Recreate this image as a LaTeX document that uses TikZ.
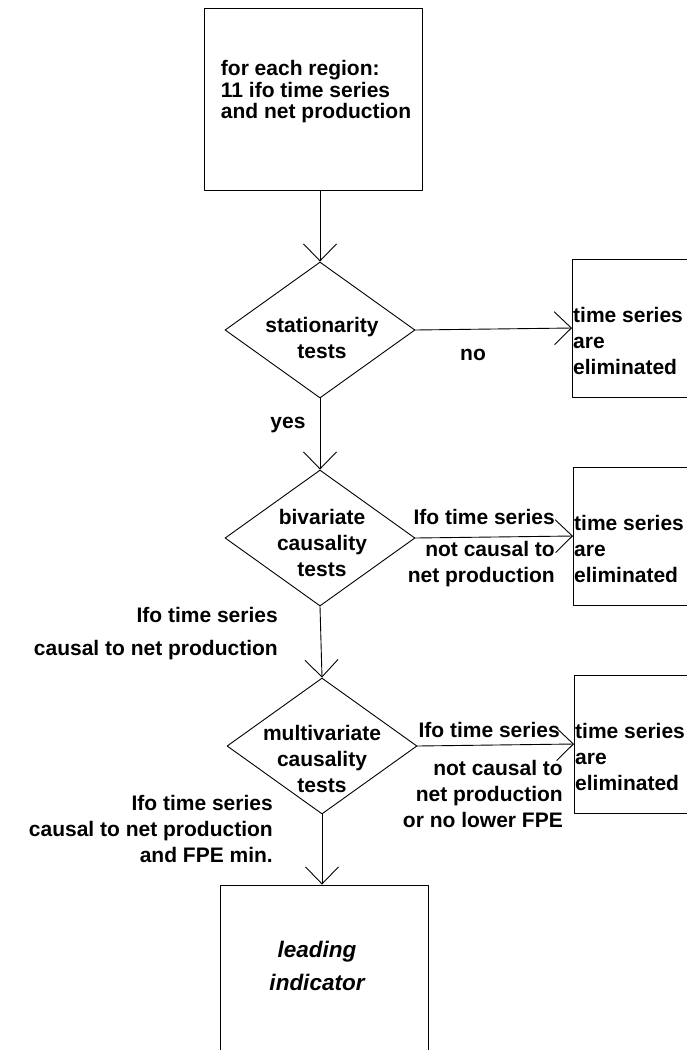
\documentclass[tikz,border=0pt]{standalone}
\usepackage{fontspec}
\setmainfont{Liberation Sans}
\usetikzlibrary{arrows.meta,shapes.geometric}
\tikzset{
  every picture/.style={
    line join=round,
    line cap=round,
  },
  flow/.style={->, line width=0.9pt},
  box/.style={draw, line width=0.9pt, inner sep=0pt},
  test/.style={draw, diamond, line width=0.9pt, inner sep=0pt,
    minimum width=190pt, minimum height=136pt},
  txt/.style={font=\fontsize{21}{26}\selectfont\bfseries, inner sep=0pt},
}

\begin{document}
\begin{tikzpicture}[x=1pt,y=-1pt,>={Straight Barb[length=17pt,width=33pt]}]
\useasboundingbox (0,0) rectangle (687,1050);
% main column
\node[box, minimum width=218pt, minimum height=182pt] (data) at (313,99) {};
\node[test] (stat) at (320,330) {};
\node[test] (biv) at (320,538) {};
\node[test] (multi) at (322,746) {};
\node[box, minimum width=208pt, minimum height=200pt] (lead) at (324,985) {};
% boxes on the right, cut by the page edge
\node[box, anchor=west, minimum width=140pt, minimum height=138pt] (elim1) at (572,328) {};
\node[box, anchor=west, minimum width=140pt, minimum height=138pt] (elim2) at (573,536) {};
\node[box, anchor=west, minimum width=140pt, minimum height=138pt] (elim3) at (574,744) {};

% texts in the shapes
\node[txt, font=\fontsize{21}{21.5}\selectfont\bfseries, align=left] (datatxt) at (316,92)
  {for each region:\\11 ifo time series\\and net production};
\node[txt, align=center] (stattxt) at (322,338) {stationarity\\tests};
\node[txt, align=center] (bivtxt) at (322,543) {bivariate\\causality\\tests};
\node[txt, align=center] (multitxt) at (322,759) {multivariate\\causality\\tests};
\node[txt, font=\fontsize{22.5}{33}\selectfont\bfseries\itshape, align=center] (leadtxt) at (317,966)
  {leading\\indicator};
\foreach \b in {elim1,elim2,elim3}
  \node[txt, align=left, anchor=west] at ([xshift=1pt,yshift=-13pt]\b.west)
    {time series\\are\\eliminated};

% connectors
\draw[flow] (stat.north |- data.south) -- (stat.north);
\draw[flow] (stat.east) -- (elim1.west);
\draw[flow] (stat.south) -- (biv.north);
\draw[flow] (biv.east) -- (elim2.west);
\draw[flow] (biv.south) -- (multi.north);
\draw[flow] (multi.east) -- (elim3.west);
\draw[flow] (multi.south) -- (multi.south |- lead.north);

% connector labels
\node[txt] (no) at (473,355) {no};
\node[txt] (yes) at (288,425) {yes};
\node[txt, anchor=east] (biv1) at (555,517) {Ifo time series};
\node[txt, anchor=east, align=right] (biv2) at (555,564) {not causal to\\net production};
\node[txt, anchor=east, font=\fontsize{21}{33}\selectfont\bfseries, align=right] (caus1) at (278,634)
  {Ifo time series\\causal to net production};
\node[txt, anchor=east] (multi1) at (560,730) {Ifo time series};
\node[txt, anchor=east, align=right] (multi2) at (563,794)
  {not causal to\\net production\\or no lower FPE};
\node[txt, anchor=east, align=right] (caus2) at (273,829)
  {Ifo time series\\causal to net production\\and FPE min.};
\end{tikzpicture}
\end{document}
